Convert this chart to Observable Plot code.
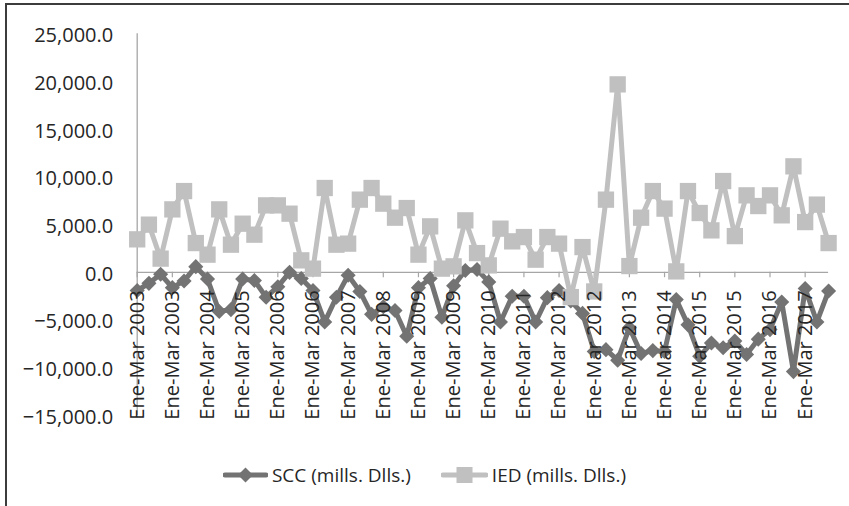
<!DOCTYPE html>
<html>
<head>
<meta charset="utf-8">
<script src="https://cdn.jsdelivr.net/npm/d3@7"></script>
<script src="https://cdn.jsdelivr.net/npm/@observablehq/plot@0.6"></script>
<style>
  html, body { margin: 0; padding: 0; background: #fff; }
  #wrap { position: relative; width: 849px; height: 506px; overflow: hidden; font-family: "Open Sans", sans-serif; color: #262626; }
  #frame { position: absolute; left: 5px; top: 3px; width: 860px; height: 520px; border-top: 2.5px solid #3c3c3c; border-left: 2.5px solid #3c3c3c; pointer-events: none; }
  #chart svg { display: block; }
  #legend { height: 58px; display: flex; justify-content: center; align-items: center; gap: 30px; font-size: 19px; padding-bottom: 4px; box-sizing: border-box; }
  .item { display: flex; align-items: center; gap: 4px; }
</style>
</head>
<body>
<div id="wrap">
  <div id="chart"></div>
  <div id="legend"></div>
  <div id="frame"></div>
</div>
<script>
// Series names
const seriesNames = ["SCC (mills. Dlls.)", "IED (mills. Dlls.)"];

// Quarterly observations, Ene-Mar 2003 ... Oct-Dic 2017 (60 quarters)
const scc = [
  -1900, -1150, -200, -1600, -900, 600, -700, -4100, -3900, -700,
  -850, -2600, -1500, 0, -650, -1900, -5200, -2600, -300, -2000,
  -4400, -3600, -4000, -6700, -1600, -650, -4700, -1400, 200, 300,
  -1000, -5200, -2500, -2500, -5200, -2650, -1900, -3000, -4300, -8300,
  -8100, -9200, -5800, -8500, -8200, -8300, -2850, -5500, -8800, -7400,
  -7900, -7200, -8600, -7000, -6000, -3100, -10400, -1700, -5200, -1950
];
const ied = [
  3460, 5000, 1440, 6600, 8520, 3070, 1855, 6600, 2900, 5100,
  3950, 7020, 7020, 6150, 1260, 390, 8840, 2900, 3010, 7620,
  8840, 7200, 5730, 6740, 1855, 4820, 390, 630, 5450, 2020,
  730, 4580, 3250, 3700, 1330, 3700, 3010, -2590, 2650, -2000,
  7620, 19700, 660, 5730, 8520, 6680, 100, 8520, 6220, 4400,
  9570, 3800, 8070, 6950, 8070, 5975, 11110, 5270, 7100, 3070
];

// Category axis labels (one every 3 quarters, as printed in the original)
const tickLabels = [
  "Ene-Mar 2003", "Ene-Mar 2003", "Ene-Mar 2004", "Ene-Mar 2005", "Ene-Mar 2006",
  "Ene-Mar 2006", "Ene-Mar 2007", "Ene-Mar 2008", "Ene-Mar 2009", "Ene-Mar 2009",
  "Ene-Mar 2010", "Ene-Mar 2011", "Ene-Mar 2012", "Ene-Mar 2012", "Ene-Mar 2013",
  "Ene-Mar 2014", "Ene-Mar 2015", "Ene-Mar 2015", "Ene-Mar 2016", "Ene-Mar 2017"
];
const tickEvery = 3;

// Y-axis ticks
const yTicks = [-15000, -10000, -5000, 0, 5000, 10000, 15000, 20000, 25000];

const colSCC = "#737373";
const colIED = "#c0c0c0";

const rows = scc.map((v, i) => ({i, scc: v, ied: ied[i]}));
const ticks = tickLabels.map((t, k) => ({i: k * tickEvery, label: t}));

const chart = Plot.plot({
  width: 849,
  height: 448,
  marginLeft: 136.7,
  marginRight: 20.9,
  marginTop: 33.3,
  marginBottom: 33,
  style: {fontFamily: "Open Sans, sans-serif", fontSize: "20px", color: "#262626", background: "transparent"},
  x: {domain: [0, scc.length - 1], axis: null},
  y: {domain: [-15000, 25000], axis: null},
  marks: [
    Plot.axisY(yTicks, {tickSize: 0, tickPadding: 24, tickFormat: d3.format(",.1f"), fontSize: 20, dy: 2}),
    Plot.ruleX([0], {y1: -15000, y2: 25000, stroke: "#a6a6a6", strokeWidth: 1.3}),
    Plot.ruleY([0], {stroke: "#a6a6a6", strokeWidth: 1.3}),
    Plot.ruleX(ticks, {x: "i", y1: 0, y2: -560, stroke: "#a6a6a6", strokeWidth: 1.2}),
    Plot.line(rows, {x: "i", y: "scc", stroke: colSCC, strokeWidth: 5, strokeLinejoin: "round"}),
    Plot.dot(rows, {x: "i", y: "scc", symbol: "diamond2", r: 6.8, fill: colSCC, stroke: "none"}),
    Plot.line(rows, {x: "i", y: "ied", stroke: colIED, strokeWidth: 5, strokeLinejoin: "round"}),
    Plot.dot(rows, {x: "i", y: "ied", symbol: "square", r: 9.2, fill: colIED, stroke: "none"}),
    Plot.text(ticks, {x: "i", y: 0, text: "label", rotate: -90, textAnchor: "end", dy: 18, fontSize: 20, fill: "#262626"})
  ]
});
document.getElementById("chart").appendChild(chart);

// Legend
const legend = document.getElementById("legend");
const cols = [colSCC, colIED];
seriesNames.forEach((name, k) => {
  const w = k === 0 ? 45 : 47;
  const c = w / 2;
  const marker = k === 0
    ? `<path d="M${c},-7.5 L${c + 7.5},0 L${c},7.5 L${c - 7.5},0 Z" fill="${cols[k]}"/>`
    : `<rect x="${c - 8}" y="-8" width="16" height="16" fill="${cols[k]}"/>`;
  const item = document.createElement("div");
  item.className = "item";
  item.innerHTML =
    `<svg width="${w}" height="20" viewBox="0 -10 ${w} 20"><line x1="2" x2="${w - 2}" y1="0" y2="0" stroke="${cols[k]}" stroke-width="5" stroke-linecap="round"/>` +
    marker + `</svg><span>${name}</span>`;
  legend.appendChild(item);
});
</script>
</body>
</html>
